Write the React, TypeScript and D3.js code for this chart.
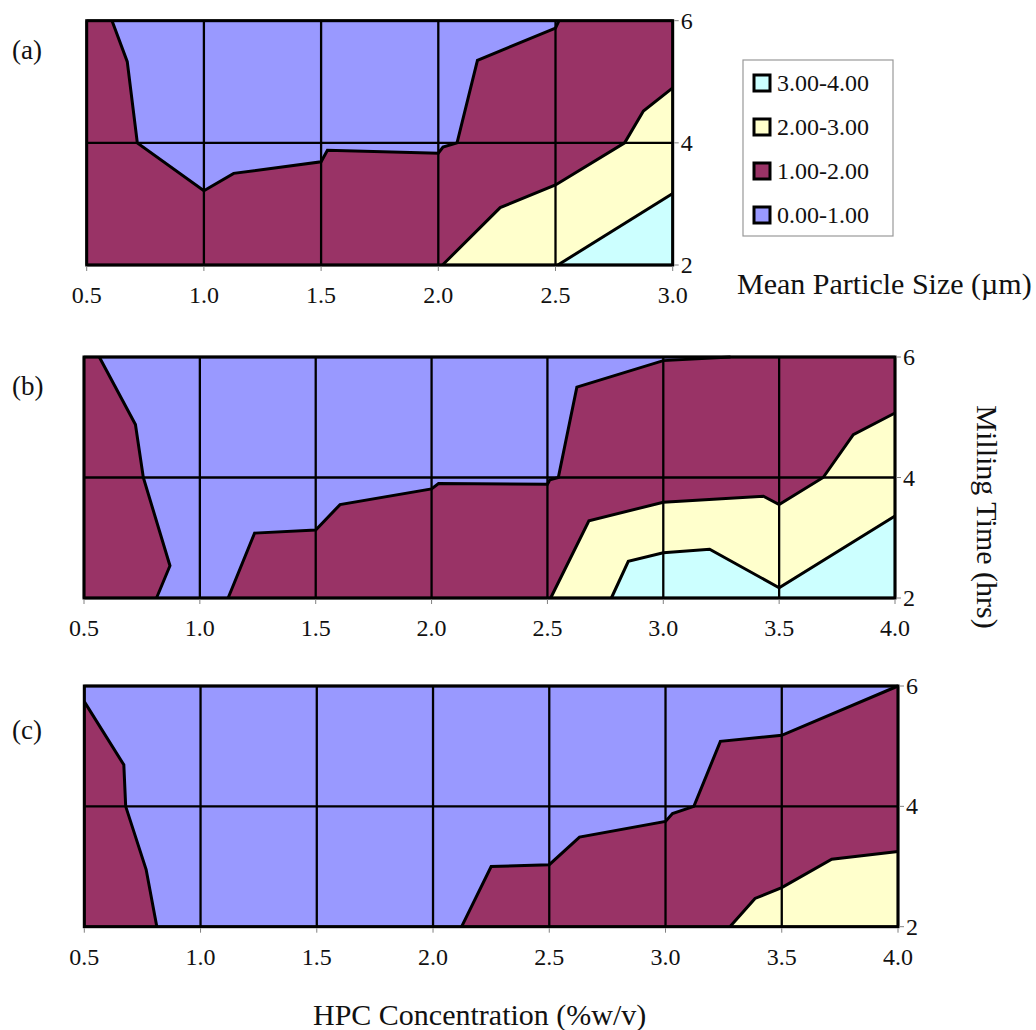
import React from 'react';
import * as d3 from 'd3';

// ---- data ----
const legendLabels = ['3.00-4.00', '2.00-3.00', '1.00-2.00', '0.00-1.00'];
const legendColors = ['#CCFFFF', '#FFFFCC', '#993366', '#9999FF'];
const yTicks = [2, 4, 6];
const xTicksA = [0.5, 1.0, 1.5, 2.0, 2.5, 3.0];
const xTicksBC = [0.5, 1.0, 1.5, 2.0, 2.5, 3.0, 3.5, 4.0];

// contour boundaries (HPC concentration, milling time)
const aLevel1 = [[0.608, 6], [0.673, 5.33], [0.716, 4], [1.0, 3.215], [1.127, 3.5], [1.5, 3.69], [1.527, 3.88], [2.0, 3.83], [2.02, 3.93], [2.08, 4], [2.167, 5.35], [2.5, 5.88], [2.515, 6]];
const aLevel2 = [[2.018, 2], [2.264, 2.94], [2.5, 3.31], [2.795, 4], [2.875, 4.52], [3.0, 4.9]];
const aLevel3 = [[2.51, 2], [3.0, 3.17]];

const bLevel1Left = [[0.566, 6], [0.722, 4.88], [0.756, 4], [0.871, 2.536], [0.813, 2]];
const bLevel1Right = [[1.122, 2], [1.236, 3.077], [1.5, 3.13], [1.605, 3.55], [2.0, 3.81], [2.03, 3.9], [2.5, 3.89], [2.51, 3.96], [2.547, 4], [2.627, 5.5], [3.0, 5.94], [3.29, 6]];
const bLevel2 = [[2.514, 2], [2.679, 3.28], [3.0, 3.59], [3.432, 3.69], [3.5, 3.55], [3.69, 4], [3.82, 4.71], [4.0, 5.07]];
const bLevel3 = [[2.776, 2], [2.849, 2.61], [3.0, 2.75], [3.2, 2.81], [3.5, 2.17], [4.0, 3.36]];

const cLevel1Left = [[0.5, 5.74], [0.67, 4.69], [0.678, 4], [0.766, 2.95], [0.812, 2]];
const cLevel1Right = [[2.123, 2], [2.25, 3.0], [2.5, 3.03], [2.63, 3.49], [3.0, 3.75], [3.03, 3.88], [3.122, 4], [3.236, 5.08], [3.5, 5.18], [4.0, 6]];
const cLevel2 = [[3.277, 2], [3.385, 2.47], [3.5, 2.65], [3.715, 3.12], [4.0, 3.25]];

const FONT = '"Liberation Serif", "Times New Roman", serif';

type Pt = number[];
type Region = { color: string; parts: Pt[][]; corners: string[] };
type PanelCfg = {
  letter: string;
  letterY: number;
  xTicks: number[];
  box: { x0: number; x1: number; y0: number; y1: number };
  base: string;
  regions: Region[];
  lines: Pt[][];
};

const panels: PanelCfg[] = [
  {
    letter: '(a)', letterY: 50, xTicks: xTicksA,
    box: { x0: 86.7, x1: 672.7, y0: 20.7, y1: 265 },
    base: legendColors[2],
    regions: [
      { color: legendColors[3], parts: [aLevel1], corners: [] },
      { color: legendColors[1], parts: [aLevel2], corners: ['br'] },
      { color: legendColors[0], parts: [aLevel3], corners: ['br'] },
    ],
    lines: [aLevel1, aLevel2, aLevel3],
  },
  {
    letter: '(b)', letterY: 386, xTicks: xTicksBC,
    box: { x0: 84, x1: 895, y0: 357, y1: 598 },
    base: legendColors[2],
    regions: [
      { color: legendColors[3], parts: [bLevel1Left, bLevel1Right], corners: [] },
      { color: legendColors[1], parts: [bLevel2], corners: ['br'] },
      { color: legendColors[0], parts: [bLevel3], corners: ['br'] },
    ],
    lines: [bLevel1Left, bLevel1Right, bLevel2, bLevel3],
  },
  {
    letter: '(c)', letterY: 730, xTicks: xTicksBC,
    box: { x0: 84.3, x1: 898, y0: 686, y1: 926.7 },
    base: legendColors[2],
    regions: [
      { color: legendColors[3], parts: [cLevel1Left, cLevel1Right], corners: ['tl'] },
      { color: legendColors[1], parts: [cLevel2], corners: ['br'] },
    ],
    lines: [cLevel1Left, cLevel1Right, cLevel2],
  },
];

function Panel({ cfg }: { cfg: PanelCfg }) {
  const { box, xTicks } = cfg;
  const xDom = d3.extent(xTicks) as [number, number];
  const yDom = d3.extent(yTicks) as [number, number];
  const x = d3.scaleLinear().domain(xDom).range([box.x0, box.x1]);
  const y = d3.scaleLinear().domain(yDom).range([box.y1, box.y0]);
  const line = d3.line<Pt>().x((d) => x(d[0])).y((d) => y(d[1]));
  const cornerPt = (c: string): Pt => [
    c.includes('l') ? xDom[0] : xDom[1],
    c.includes('t') ? yDom[1] : yDom[0],
  ];
  const regionPath = (r: Region) => {
    const pts: Pt[] = [...r.parts.flat(), ...r.corners.map(cornerPt)];
    return line(pts) + 'Z';
  };
  return (
    <g>
      <rect x={box.x0} y={box.y0} width={box.x1 - box.x0} height={box.y1 - box.y0} fill={cfg.base} />
      {cfg.regions.map((r, i) => (
        <path key={i} d={regionPath(r)} fill={r.color} stroke="none" />
      ))}
      {/* grid lines */}
      {xTicks.map((t) => (
        <line key={'gx' + t} x1={x(t)} x2={x(t)} y1={box.y0} y2={box.y1} stroke="#000" strokeWidth={2.3} />
      ))}
      {yTicks.map((t) => (
        <line key={'gy' + t} x1={box.x0} x2={box.x1} y1={y(t)} y2={y(t)} stroke="#000" strokeWidth={2.3} />
      ))}
      {/* contour lines */}
      {cfg.lines.map((l, i) => (
        <path key={'l' + i} d={line(l) || ''} fill="none" stroke="#000" strokeWidth={3} strokeLinejoin="miter" />
      ))}
      <rect x={box.x0} y={box.y0} width={box.x1 - box.x0} height={box.y1 - box.y0} fill="none" stroke="#000" strokeWidth={3} />
      {/* ticks */}
      {xTicks.map((t) => (
        <g key={'tx' + t}>
          <line x1={x(t)} x2={x(t)} y1={box.y1 + 1.5} y2={box.y1 + 6} stroke="#808080" strokeWidth={1} />
          <text x={x(t)} y={box.y1 + 38} textAnchor="middle" fontFamily={FONT} fontSize={24} fill="#111">
            {d3.format('.1f')(t)}
          </text>
        </g>
      ))}
      {yTicks.map((t) => (
        <g key={'ty' + t}>
          <line x1={box.x1 + 1.5} x2={box.x1 + 6} y1={y(t)} y2={y(t)} stroke="#808080" strokeWidth={1} />
          <text x={box.x1 + 8} y={y(t)} dominantBaseline="central" fontFamily={FONT} fontSize={24} fill="#111">
            {t}
          </text>
        </g>
      ))}
      <text x={12} y={cfg.letterY} dominantBaseline="central" fontFamily={FONT} fontSize={27} fill="#111">
        {cfg.letter}
      </text>
    </g>
  );
}

export default function App() {
  return (
    <svg width={1036} height={1030} style={{ position: 'absolute', left: 0, top: 0, background: '#fff' }}>
      <rect x={0} y={0} width={1036} height={1030} fill="#fff" />
      {panels.map((p) => (
        <Panel key={p.letter} cfg={p} />
      ))}
      {/* legend */}
      <rect x={743} y={60} width={150} height={176} fill="#fff" stroke="#999" strokeWidth={1.2} />
      {legendLabels.map((lab, i) => (
        <g key={lab}>
          <rect x={754} y={75 + i * 44} width={16} height={16} fill={legendColors[i]} stroke="#000" strokeWidth={3} />
          <text x={777} y={83 + i * 44} dominantBaseline="central" fontFamily={FONT} fontSize={24} fill="#111">
            {lab}
          </text>
        </g>
      ))}
      <text x={737} y={294} fontFamily={FONT} fontSize={30} fill="#111">Mean Particle Size (µm)</text>
      <text x={313} y={1025} fontFamily={FONT} fontSize={30} fill="#111">HPC Concentration (%w/v)</text>
      <text transform="translate(977,517) rotate(90)" textAnchor="middle" fontFamily={FONT} fontSize={30} fill="#111">
        Milling Time (hrs)
      </text>
    </svg>
  );
}
